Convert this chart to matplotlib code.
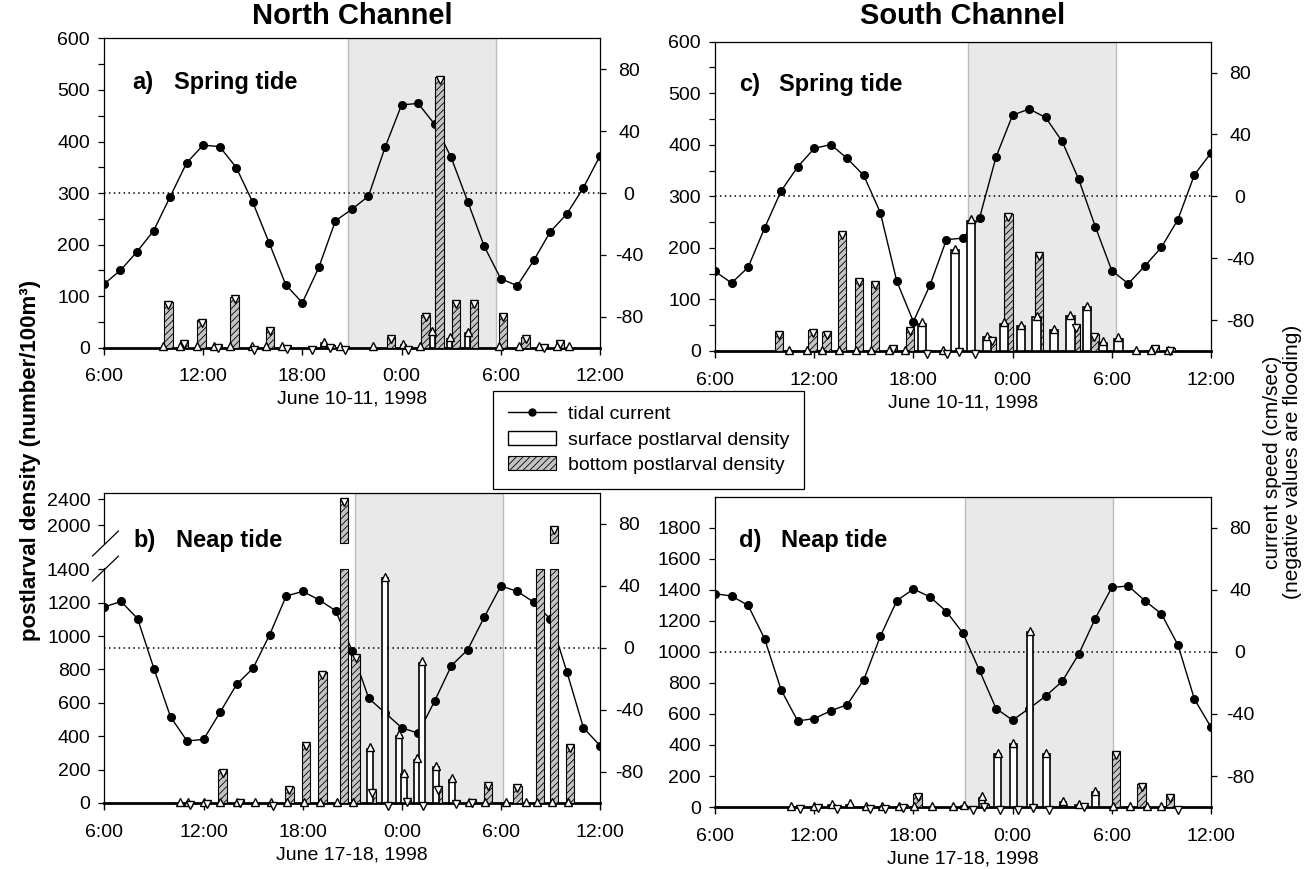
import numpy as np
import matplotlib
matplotlib.use("Agg")
import matplotlib.pyplot as plt
import matplotlib.transforms as mtransforms
from matplotlib.lines import Line2D
from matplotlib.patches import Patch

plt.rcParams['font.family'] = ['Liberation Sans', 'DejaVu Sans']
plt.rcParams['axes.unicode_minus'] = False
plt.rcParams['hatch.linewidth'] = 0.6

# ---------------------------------------------------------------- data
# time axis: hours after 06:00 of the first day
hours = np.arange(31)
tick_hours = [0, 6, 12, 18, 24, 30]
tick_labels = ["6:00", "12:00", "18:00", "0:00", "6:00", "12:00"]

# tidal current (cm/sec), hourly 06:00 -> 12:00 next day
north_spring_current = [-59, -50, -38, -24.5, -2.5, 19.5, 31, 30, 16.5, -6, -32.5,
                        -59.5, -71, -48, -18, -10.5, -2, 29.5, 57, 58, 44.5, 23,
                        -5.5, -34.5, -55.5, -60, -43.5, -25, -13.5, 3.5, 24]
south_spring_current = [-48.5, -56, -46, -20.5, 3.5, 19, 31, 33.5, 24.5, 13.5, -10.5,
                        -55, -81, -57.5, -28, -27, -14, 25.5, 52.5, 56.5, 51, 35.5,
                        11, -19.5, -48, -56.5, -45, -33, -15, 14, 28]
north_neap_current = [26.5, 30, 19, -13.5, -44.5, -60, -59, -41.5, -23.5, -13, 8.5,
                      33.5, 36.5, 31, 24, -2, -32.5, -42, -51.5, -55, -34, -11.5,
                      -1, 20, 40, 36.5, 29.5, 18.5, -15.5, -51.5, -63]
south_neap_current = [37.5, 36, 30, 8.5, -24.5, -44.5, -43, -38, -34, -18, 10,
                      33, 40.5, 35.5, 26, 12, -12, -36.5, -44, -36.5, -28.5, -19,
                      -1.5, 21.5, 41.5, 42.5, 33, 24.5, 4.5, -30.5, -48.5]

# postlarval density (number/100 m^3): sampling times and values
ns_surf_t = [3.6, 4.6, 5.6, 6.65, 7.65, 8.95, 9.8, 10.75, 13.3, 14.25, 16.3, 18.1,
             19.1, 19.85, 20.9, 22.0, 23.9, 25.1, 26.3, 27.4, 28.1]
ns_surf = [0, 0, 0, 0, 0, 0, 0, 0, 8, 0, 0, 5, 0, 29, 17, 28, 0, 0, 0, 0, 0]
ns_bot_t = [3.9, 4.85, 5.9, 6.9, 7.9, 9.05, 10.05, 11.05, 12.6, 13.7, 14.55, 17.35,
            18.4, 19.45, 20.3, 21.3, 22.4, 24.15, 25.5, 26.6, 27.6]
ns_bot = [88, 12, 53, 4, 99, 0, 37, 3, 0, 5, 0, 21, 0, 64, 525, 90, 89, 65, 21, 5, 12]

ss_surf_t = [4.5, 5.55, 6.5, 7.5, 8.5, 9.45, 10.5, 11.5, 12.5, 13.8, 14.5, 15.5,
             16.45, 17.5, 18.5, 19.45, 20.5, 21.5, 22.5, 23.45, 24.4, 25.45, 26.35, 27.4]
ss_surf = [0, 0, 0, 0, 0, 0, 0, 0, 53, 0, 196, 253, 27, 53, 48, 66, 40, 67, 85, 16,
           24, 0, 0, 0]
ss_bot_t = [3.85, 5.9, 6.75, 7.7, 8.7, 9.7, 10.75, 11.8, 12.8, 14.05, 14.75, 15.75,
            16.75, 17.75, 19.6, 21.85, 22.95, 26.6, 27.55]
ss_bot = [37, 40, 37, 231, 139, 133, 10, 45, 0, 0, 3, 0, 25, 265, 189, 50, 32, 10, 5]

nn_surf_t = [4.55, 5.05, 6.05, 7.0, 8.0, 9.1, 10.1, 11.05, 12.05, 13.05, 14.05, 15.05,
             16.05, 17.0, 17.85, 18.15, 18.9, 19.2, 20.05, 21.05, 22.05, 23.05, 24.3,
             25.5, 26.2, 27.1, 28.05]
nn_surf = [0, 0, 0, 0, 0, 0, 0, 0, 0, 0, 0, 0, 324, 1346, 404, 174, 260, 840, 216,
           140, 0, 0, 0, 0, 0, 0, 0]
nn_bot_t = [5.2, 6.2, 7.15, 8.2, 10.2, 11.2, 12.2, 13.2, 14.5, 15.2, 16.2, 17.15,
            18.3, 19.3, 20.2, 21.3, 22.25, 23.2, 25.0, 26.35, 27.2, 28.2]
nn_bot = [5, 8, 196, 15, 0, 95, 355, 786, 2400, 886, 74, 0, 20, 0, 94, 10, 15, 116,
          104, 1550, 1970, 346]

sn_surf_t = [4.6, 6.0, 7.05, 8.15, 9.15, 10.1, 11.1, 12.05, 13.15, 14.4, 15.05, 16.15,
             17.1, 18.05, 19.05, 20.05, 21.05, 22.0, 23.0, 24.05, 25.1, 26.1, 27.0]
sn_surf = [0, 0, 10, 15, 0, 0, 0, 0, 0, 0, 5, 60, 342, 406, 1127, 342, 30, 12, 95,
           0, 0, 0, 0]
sn_bot_t = [5.15, 6.25, 7.35, 9.4, 10.3, 11.4, 12.25, 15.6, 16.3, 17.25, 18.3, 19.25,
            20.2, 22.3, 24.25, 25.8, 27.5, 28.0]
sn_bot = [5, 12, 5, 5, 5, 12, 84, 0, 20, 0, 0, 10, 0, 15, 353, 148, 77, 0]

# darkness (hours after 06:00)
night_ns = (14.75, 23.7)
night_ss = (15.3, 24.25)
night_nn = (15.15, 24.1)
night_sn = (15.1, 24.1)

# ------------------------------------------------------------ drawing
fig = plt.figure(figsize=(13.16, 8.69), dpi=100)

FS = 14
BAR_W = 0.5

# broken density scale for the North Channel neap panel
BRK_LO, BRK_HI, BRK_TOP = 1400, 1720, 2500
_knots = np.array([-1e5, 0, BRK_LO, BRK_HI, BRK_TOP, 1e6])
_pos = np.array([-1e5 * 0.754 / BRK_LO, 0, 0.754, 0.838, 1.0,
                 1.0 + (1e6 - BRK_TOP) * 0.162 / (BRK_TOP - BRK_HI)])


def brk_fwd(v):
    return np.interp(np.asarray(v, float), _knots, _pos)


def brk_inv(y):
    return np.interp(np.asarray(y, float), _pos, _knots)


def panel(rect, current, surf_t, surf, bot_t, bot, night, den_max, den_ticks,
          den_minor, tag, name, xlabel, broken=False, surf_w=BAR_W):
    ax = fig.add_axes(rect)
    ax.set_xlim(0, 30)
    ax.set_ylim(-100, 100)
    ax.axvspan(night[0], night[1], facecolor='#e9e9e9', edgecolor='#bdbdbd',
               lw=1.0, zorder=0)
    ax.axhline(0, color='black', lw=1.1, ls=(0, (1, 2.2)), zorder=1)
    ax.plot(hours, current, '-o', color='black', lw=1.0, ms=5.5, zorder=2)

    den = ax.twinx()
    ax.yaxis.tick_right()
    den.yaxis.tick_left()
    den.yaxis.set_label_position('left')

    if broken:
        den.set_yscale('function', functions=(brk_fwd, brk_inv))
    den.set_ylim(0, den_max)

    bot = np.asarray(bot, float)
    surf = np.asarray(surf, float)
    bt = np.asarray(bot_t, float)
    kw_bot = dict(width=BAR_W, facecolor='#c4c4c4', edgecolor='black', lw=0.8,
                  hatch='/////', zorder=2)
    if broken:
        den.bar(bt, np.minimum(bot, BRK_LO), **kw_bot)
        hi = bot > BRK_HI
        den.bar(bt[hi], bot[hi] - BRK_HI, bottom=BRK_HI, **kw_bot)
        bot_mark = np.where((bot > BRK_LO) & (bot < BRK_HI), np.nan, bot)
    else:
        den.bar(bt, bot, **kw_bot)
        bot_mark = bot
    den.bar(surf_t, surf, width=surf_w, facecolor='white', edgecolor='black',
            lw=1.2, zorder=3)

    up = den.transData + mtransforms.ScaledTranslation(0, 1 / 72, fig.dpi_scale_trans)
    down = den.transData + mtransforms.ScaledTranslation(0, -2 / 72, fig.dpi_scale_trans)
    den.plot(surf_t, surf, ls='none', marker='^', ms=6, mfc='white', mec='black',
             mew=1.0, zorder=5, clip_on=False, transform=up)
    den.plot(bot_t, bot_mark, ls='none', marker='v', ms=6, mfc='white', mec='black',
             mew=1.0, zorder=5, clip_on=False, transform=down)

    # spines
    for s in ('top', 'right', 'left'):
        ax.spines[s].set_linewidth(0.9)
    ax.spines['bottom'].set_linewidth(2.0)
    for s in den.spines.values():
        s.set_visible(False)
    if broken:
        ax.spines['left'].set_visible(False)
        lo_top = 0.758
        hi_bot = 0.838
        t = ax.transAxes
        ax.add_line(Line2D([0, 0], [0, lo_top], transform=t, color='black',
                           lw=0.9, clip_on=False))
        ax.add_line(Line2D([0, 0], [hi_bot, 1], transform=t, color='black',
                           lw=0.9, clip_on=False))
        for y0 in (0.716, 0.797):
            ax.add_line(Line2D([-0.024, 0.028], [y0, y0 + 0.08], transform=t,
                               color='black', lw=0.9, clip_on=False))

    # ticks
    ax.set_xticks(tick_hours)
    ax.set_xticklabels(tick_labels)
    ax.tick_params(axis='x', direction='out', length=5, width=1.0, pad=10,
                   labelsize=FS)
    ax.set_yticks([-80, -40, 0, 40, 80])
    ax.tick_params(axis='y', direction='out', length=4, width=0.9, pad=17,
                   labelsize=FS)
    for lbl in ax.get_yticklabels():
        lbl.set_horizontalalignment('center')

    den.set_yticks(den_ticks)
    if den_minor is not None:
        den.set_yticks(den_minor, minor=True)
    else:
        den.set_yticks([], minor=True)
    den.tick_params(axis='y', which='both', direction='out', length=4, width=0.9,
                    pad=6, labelsize=FS)

    ax.set_xlabel(xlabel, fontsize=FS, labelpad=4)

    den.text(tag[0], tag[1], tag[2], transform=den.transAxes, fontsize=17,
             fontweight='bold', va='center', ha='left', zorder=6)
    den.text(name[0], tag[1], name[1], transform=den.transAxes, fontsize=17,
             fontweight='bold', va='center', ha='left', zorder=6)
    return ax, den


ax_a, _ = panel([0.0790, 0.6001, 0.3769, 0.3556], north_spring_current,
                ns_surf_t, ns_surf, ns_bot_t, ns_bot, night_ns, 600,
                list(range(0, 601, 100)), list(range(50, 600, 100)),
                (0.058, 0.859, "a)"), (0.141, "Spring tide"), "June 10-11, 1998",
                surf_w=0.3)
ax_c, _ = panel([0.5433, 0.5961, 0.3769, 0.3559], south_spring_current,
                ss_surf_t, ss_surf, ss_bot_t, ss_bot, night_ss, 600,
                list(range(0, 601, 100)), list(range(50, 600, 100)),
                (0.048, 0.861, "c)"), (0.130, "Spring tide"), "June 10-11, 1998")
ax_b, _ = panel([0.0794, 0.0760, 0.3765, 0.3567], north_neap_current,
                nn_surf_t, nn_surf, nn_bot_t, nn_bot, night_nn, 2500,
                [0, 200, 400, 600, 800, 1000, 1200, 1400, 2000, 2400], None,
                (0.058, 0.848, "b)"), (0.145, "Neap tide"), "June 17-18, 1998",
                broken=True, surf_w=0.36)
ax_d, _ = panel([0.5433, 0.0713, 0.3769, 0.3571], south_neap_current,
                sn_surf_t, sn_surf, sn_bot_t, sn_bot, night_sn, 2000,
                list(range(0, 1801, 200)), None,
                (0.048, 0.858, "d)"), (0.1325, "Neap tide"), "June 17-18, 1998",
                surf_w=0.4)

fig.text(0.2675, 0.982, "North Channel", ha='center', va='center', fontsize=21,
         fontweight='bold')
fig.text(0.7318, 0.982, "South Channel", ha='center', va='center', fontsize=21,
         fontweight='bold')

fig.text(0.023, 0.47, "postlarval density (number/100m³)", rotation=90,
         ha='center', va='center', fontsize=16, fontweight='bold')
fig.text(0.9673, 0.468, "current speed (cm/sec)", rotation=90, ha='center',
         va='center', fontsize=15)
fig.text(0.9825, 0.468, "(negative values are flooding)", rotation=90,
         ha='center', va='center', fontsize=15)

handles = [Line2D([], [], color='black', lw=1.0, marker='o', ms=5),
           Patch(facecolor='white', edgecolor='black', lw=1.0),
           Patch(facecolor='#c4c4c4', edgecolor='black', lw=0.8, hatch='/////')]
labels = ["tidal current", "surface postlarval density", "bottom postlarval density"]
fig.legend(handles, labels, loc='upper left', bbox_to_anchor=(0.3746, 0.5501),
           borderaxespad=0, frameon=True, fancybox=False, edgecolor='black',
           framealpha=1, fontsize=FS, handlelength=2.5, handletextpad=0.6,
           labelspacing=0.4, borderpad=0.75).get_frame().set_linewidth(0.9)

fig.savefig("out.png", dpi=100)
